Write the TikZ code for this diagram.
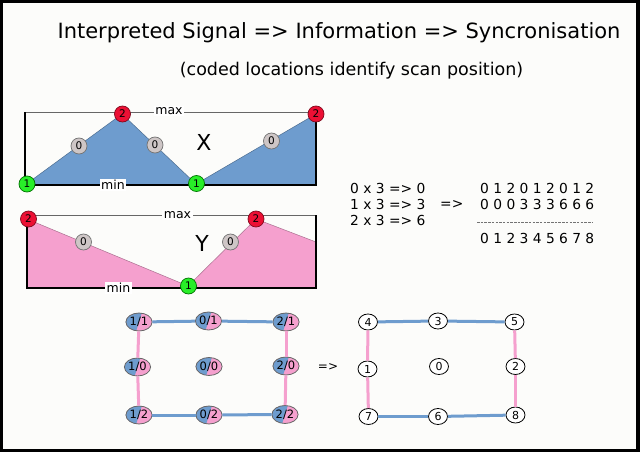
\documentclass[tikz,border=0pt]{standalone}
\usepackage{fontspec}
\setmainfont{DejaVu Sans}
\usetikzlibrary{shapes.geometric}
\definecolor{bgc}{RGB}{252,252,250}
\definecolor{sigblue}{RGB}{110,156,206}
\definecolor{sigpink}{RGB}{245,160,206}
\definecolor{redc}{RGB}{236,16,52}
\definecolor{greenc}{RGB}{40,238,40}
\definecolor{greyc}{RGB}{206,198,198}
\begin{document}
\begin{tikzpicture}[x=1pt,y=-1pt,
  reddot/.style={circle, draw=redc!55!black, fill=redc, inner sep=0pt, minimum size=16pt, line width=0.7pt, font=\fontsize{10.5}{10.5}\selectfont},
  greendot/.style={circle, draw=green!45!black, fill=greenc, inner sep=0pt, minimum size=16pt, line width=0.7pt, font=\fontsize{10.5}{10.5}\selectfont},
  greydot/.style={circle, draw=black!55, fill=greyc, inner sep=0pt, minimum size=16pt, line width=0.7pt, font=\fontsize{10.5}{10.5}\selectfont},
  splitnode/.style={ellipse, draw=black!60, line width=0.8pt, fill=sigpink, minimum width=20pt, minimum height=18pt, inner sep=0pt, font=\fontsize{11.5}{11.5}\selectfont,
    path picture={\fill[sigblue] (path picture bounding box.south west) -- (path picture bounding box.north west) -- ([xshift=2.8pt]path picture bounding box.north) -- ([xshift=-2.8pt]path picture bounding box.south) -- cycle;}},
  plainnode/.style={ellipse, draw=black, line width=0.8pt, fill=white, minimum width=19pt, minimum height=16pt, inner sep=0pt, font=\fontsize{11}{11}\selectfont},
  hlink/.style={draw=sigblue, line width=3pt},
  vlink/.style={draw=sigpink, line width=3pt},
  lbl/.style={fill=white, inner sep=1.5pt, font=\fontsize{12.5}{12.5}\selectfont},
  rowtxt/.style={anchor=west, inner sep=0pt, font=\fontsize{13.8}{13.8}\selectfont},
  axisline/.style={draw=black, line width=1.6pt},
  topline/.style={draw=black!60, line width=0.8pt}]
% background and frame
\fill[black] (0,0) rectangle (640,452);
\fill[bgc] (3,3) rectangle (636,449);
% titles
\node[inner sep=0pt, font=\fontsize{21}{21}\selectfont] (title) at (339,33) {Interpreted Signal => Information => Syncronisation};
\node[inner sep=0pt, font=\fontsize{17.5}{17.5}\selectfont] (subtitle) at (351.5,71) {(coded locations identify scan position)};
% X chart
\draw[topline] (25,112) -- (316,112);
\filldraw[fill=sigblue, draw=sigblue!70!black, line width=0.5pt] (25,185) -- (122,114) -- (196,184) -- (316,114) -- (316,185) -- cycle;
\draw[axisline] (25,112) -- (25,185) -- (316,185) -- (316,113);
\node[lbl] (xmax) at (169,111) {max};
\node[lbl] (xmin) at (113,185) {min};
\node[font=\fontsize{22}{22}\selectfont, inner sep=0pt] (xlabel) at (204,142) {X};
\node[greendot] (x1a) at (27,184) {1};
\node[greydot] (x0a) at (79,146) {0};
\node[reddot] (x2a) at (122.5,114) {2};
\node[greydot] (x0b) at (155,145) {0};
\node[greendot] (x1b) at (196.5,183.5) {1};
\node[greydot] (x0c) at (271.5,141) {0};
\node[reddot] (x2b) at (316,114) {2};
% Y chart
\draw[topline] (27,215) -- (316,215);
\filldraw[fill=sigpink, draw=sigpink!70!black, line width=0.5pt] (27,219) -- (188,286) -- (256,219) -- (316,242) -- (316,288) -- (27,288) -- cycle;
\draw[axisline] (27,219) -- (27,288) -- (316,288) -- (316,215);
\node[lbl] (ymax) at (177.5,215) {max};
\node[lbl] (ymin) at (118.5,288) {min};
\node[font=\fontsize{22}{22}\selectfont, inner sep=0pt] (ylabel) at (202,243) {Y};
\node[reddot] (y2a) at (28.5,219) {2};
\node[greydot] (y0a) at (83.5,242) {0};
\node[greendot] (y1a) at (188.5,286) {1};
\node[greydot] (y0b) at (230.5,242) {0};
\node[reddot] (y2b) at (256,219) {2};
% arithmetic
\node[rowtxt] (r1) at (350,188) {0 x 3 => 0};
\node[rowtxt] (r2) at (350,204) {1 x 3 => 3};
\node[rowtxt] (r3) at (350,220) {2 x 3 => 6};
\node[rowtxt] (rarrow) at (440,204) {=>};
\node[rowtxt] (s1) at (480,188) {0 1 2 0 1 2 0 1 2};
\node[rowtxt] (s2) at (480,204) {0 0 0 3 3 3 6 6 6};
\node[rowtxt] (s3) at (480,238) {0 1 2 3 4 5 6 7 8};
\coordinate (dashA) at (477,222);
\coordinate (dashB) at (592,222);
\draw[black!55, line width=0.9pt, dash pattern=on 2.5pt off 1.2pt] (dashA) -- (dashB);
% left grid
\node[splitnode] (g11) at (139,322) {1/1};
\node[splitnode] (g01) at (208.5,321) {0/1};
\node[splitnode] (g21) at (286,322) {2/1};
\node[splitnode] (g10) at (137.5,367) {1/0};
\node[splitnode] (g00) at (209,366.5) {0/0};
\node[splitnode] (g20) at (286,366) {2/0};
\node[splitnode] (g12) at (139,415) {1/2};
\node[splitnode] (g02) at (209,415) {0/2};
\node[splitnode] (g22) at (285,414.5) {2/2};
\draw[hlink] (g11) -- (g01);
\draw[hlink] (g01) -- (g21);
\draw[hlink] (g12) -- (g02);
\draw[hlink] (g02) -- (g22);
\draw[vlink] (g11) -- (g10);
\draw[vlink] (g10) -- (g12);
\draw[vlink] (g21) -- (g20);
\draw[vlink] (g20) -- (g22);
% arrow
\node[inner sep=0pt, font=\fontsize{12}{12}\selectfont] (garrow) at (328,367) {=>};
% right grid
\node[plainnode] (n4) at (368,322) {4};
\node[plainnode] (n3) at (438,321) {3};
\node[plainnode] (n5) at (514.5,322) {5};
\node[plainnode] (n1) at (367.5,369) {1};
\node[plainnode] (n0) at (439,366.5) {0};
\node[plainnode] (n2) at (515.5,366.5) {2};
\node[plainnode] (n7) at (368.5,416.5) {7};
\node[plainnode] (n6) at (438,416.5) {6};
\node[plainnode] (n8) at (515.5,415) {8};
\draw[hlink] (n4) -- (n3);
\draw[hlink] (n3) -- (n5);
\draw[hlink] (n7) -- (n6);
\draw[hlink] (n6) -- (n8);
\draw[vlink] (n4) -- (n1);
\draw[vlink] (n1) -- (n7);
\draw[vlink] (n5) -- (n2);
\draw[vlink] (n2) -- (n8);
\end{tikzpicture}
\end{document}
